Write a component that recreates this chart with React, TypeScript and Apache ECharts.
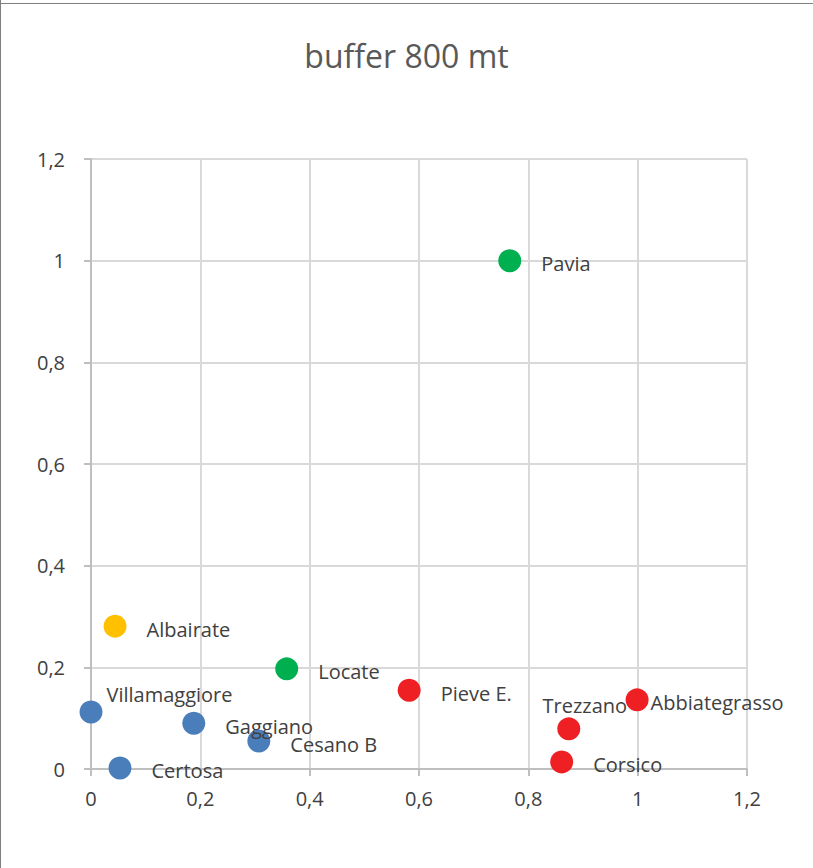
import React, { useEffect, useRef } from "react";
import * as echarts from "echarts";

const names = ["Pavia", "Albairate", "Locate", "Pieve E.", "Abbiategrasso", "Trezzano", "Corsico", "Villamaggiore", "Gaggiano", "Cesano B", "Certosa"];
const xValues = [0.766, 0.044, 0.358, 0.582, 0.999, 0.874, 0.861, 0.0, 0.188, 0.307, 0.053];
const yValues = [1.0, 0.281, 0.197, 0.155, 0.136, 0.079, 0.014, 0.112, 0.09, 0.055, 0.002];
const groups = ["green", "yellow", "green", "red", "red", "red", "red", "blue", "blue", "blue", "blue"];
const axisTicks = [0, 0.2, 0.4, 0.6, 0.8, 1, 1.2];

const palette: Record<string, string> = {
  green: "#00b050",
  yellow: "#ffc000",
  red: "#ee2024",
  blue: "#4a7ebb",
};

const labelOverrides: Record<string, any> = {
  Villamaggiore: { position: "right", distance: 4, offset: [0, -18] },
  Trezzano: { position: "top", distance: 2, offset: [16, 0] },
  Abbiategrasso: { position: "right", distance: 2, offset: [0, 3] },
};

const fmt = (v: number) => String(Number(v.toFixed(1))).replace(".", ",");

export default function App() {
  const ref = useRef<HTMLDivElement>(null);
  useEffect(() => {
    document.body.style.margin = "0";
    const chart = echarts.init(ref.current!, undefined, { renderer: "svg" });
    const font = "'Open Sans', 'Noto Sans', sans-serif";
    const data = names.map((n, i) => ({
      name: n,
      value: [xValues[i], yValues[i]],
      itemStyle: { color: palette[groups[i]], opacity: 1 },
      label: labelOverrides[n] || {},
    }));
    chart.setOption({
      animation: false,
      backgroundColor: "#ffffff",
      title: {
        text: "buffer 800 mt",
        left: "center",
        top: 34,
        textStyle: { fontFamily: font, fontSize: 32, fontWeight: "normal", color: "#595959" },
      },
      grid: { left: 91, right: 66, top: 159, bottom: 99 },
      xAxis: {
        type: "value",
        min: axisTicks[0],
        max: axisTicks[axisTicks.length - 1],
        interval: 0.2,
        axisLine: { show: true, onZero: false, lineStyle: { color: "#bfbfbf", width: 2 } },
        axisTick: { show: true, length: 7, lineStyle: { color: "#bfbfbf", width: 2 } },
        splitLine: { show: true, lineStyle: { color: "#d9d9d9", width: 2 } },
        axisLabel: { formatter: fmt, color: "#404040", fontSize: 20, fontFamily: font, margin: 19 },
      },
      yAxis: {
        type: "value",
        min: axisTicks[0],
        max: axisTicks[axisTicks.length - 1],
        interval: 0.2,
        axisLine: { show: true, onZero: false, lineStyle: { color: "#bfbfbf", width: 2 } },
        axisTick: { show: true, length: 7, lineStyle: { color: "#bfbfbf", width: 2 } },
        splitLine: { show: true, lineStyle: { color: "#d9d9d9", width: 2 } },
        axisLabel: { formatter: fmt, color: "#404040", fontSize: 20, fontFamily: font, margin: 26 },
      },
      series: [
        {
          type: "scatter",
          symbolSize: 23,
          data,
          label: {
            show: true,
            formatter: "{b}",
            position: "right",
            distance: 20,
            offset: [0, 3],
            color: "#404040",
            fontSize: 20,
            fontFamily: font,
          },
        },
      ],
      graphic: [
        { type: "line", shape: { x1: 0.5, y1: 0, x2: 0.5, y2: 868 }, style: { stroke: "#7f7f7f", lineWidth: 1 } },
        { type: "line", shape: { x1: 0, y1: 3.5, x2: 813, y2: 3.5 }, style: { stroke: "#7f7f7f", lineWidth: 1 } },
      ],
    });
    return () => chart.dispose();
  }, []);
  return <div ref={ref} style={{ width: 813, height: 868 }} />;
}
